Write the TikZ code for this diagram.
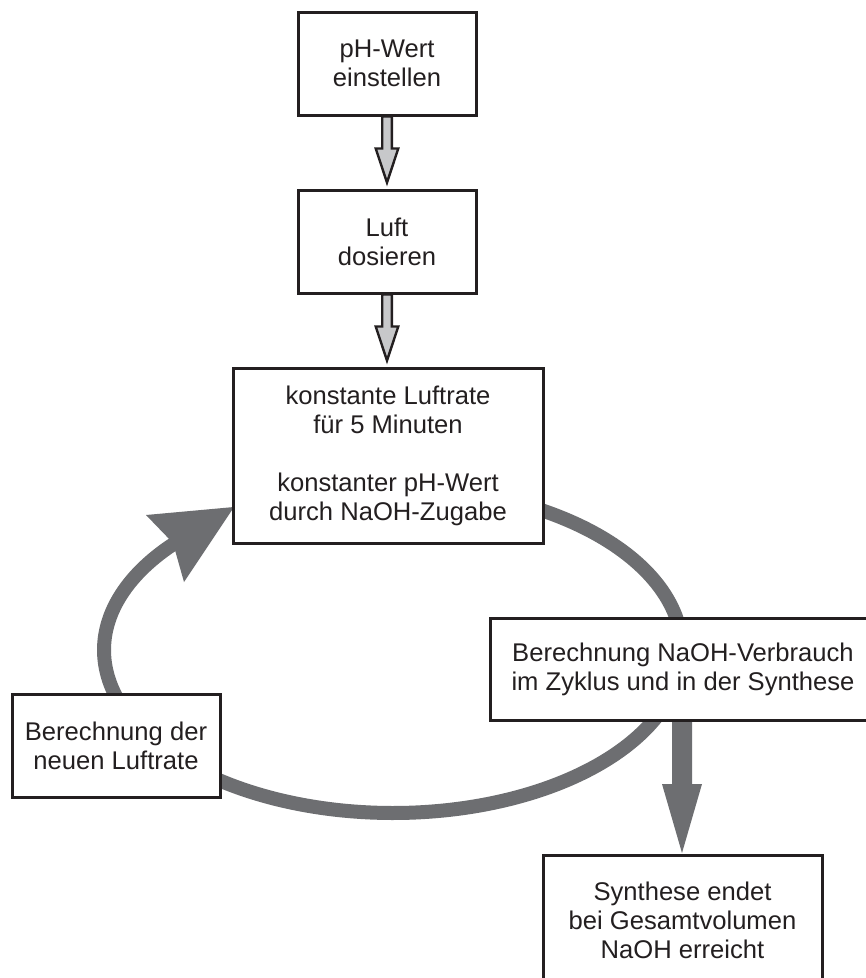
\documentclass[tikz,border=0pt]{standalone}
\usepackage{fontspec}
\setmainfont{Liberation Sans}
\usetikzlibrary{calc}
\definecolor{dark}{HTML}{231F20}
\definecolor{loopgray}{HTML}{6D6E71}
\definecolor{lightfill}{HTML}{C7C8CA}
\pgfdeclarelayer{background}
\pgfsetlayers{background,main}
\begin{document}
\begin{tikzpicture}[x=1pt,y=-1pt,
  box/.style={draw=dark, line width=3pt, fill=white, align=center, inner sep=0pt,
    text=dark, font=\fontsize{25.6}{29}\selectfont},
  smallarrow/.style={draw=dark, fill=lightfill, line width=2.4pt, line join=miter},
  loopline/.style={draw=loopgray, line width=14pt},
  loopfill/.style={fill=loopgray}
]
\clip (0,0) rectangle (866,978);

\node[box, minimum width=178pt, minimum height=103pt] (b1) at (387,63.5) {pH-Wert\\einstellen};
\node[box, minimum width=178pt, minimum height=103pt] (b2) at (387,241.5) {Luft\\dosieren};
\node[box, minimum width=310pt, minimum height=175pt] (b3) at (388,455.5)
  {konstante Luftrate\\für 5 Minuten\\[29pt]konstanter pH-Wert\\durch NaOH-Zugabe};
\node[box, minimum width=386pt, minimum height=102pt] (b4) at (683,669)
  {Berechnung NaOH-Verbrauch\\im Zyklus und in der Synthese};
\node[box, minimum width=208pt, minimum height=103pt] (b5) at (116,745.5)
  {Berechnung der\\neuen Luftrate};
\node[box, minimum width=279pt, minimum height=130pt] (b6) at (682.5,920)
  {Synthese endet\\bei Gesamtvolumen\\NaOH erreicht};

\coordinate (looptip) at (234,507);

\begin{pgfonlayer}{background}
  \fill[white] (0,0) rectangle (866,978);
  % small block arrows
  \draw[smallarrow] let \p1=(b1.south), \p2=(b2.north) in
    (\x1-4.8pt,\y1) -- (\x1-4.8pt,\y2+40pt) -- (\x1-11.3pt,\y2+40pt) -- (\x1,\y2+6pt)
    -- (\x1+11.3pt,\y2+40pt) -- (\x1+4.8pt,\y2+40pt) -- (\x1+4.8pt,\y1) -- cycle;
  \draw[smallarrow] let \p1=(b2.south), \p2=(b3.north) in
    (\x1-4.8pt,\y1) -- (\x1-4.8pt,\y2+40pt) -- (\x1-11.3pt,\y2+40pt) -- (\x1,\y2+6pt)
    -- (\x1+11.3pt,\y2+40pt) -- (\x1+4.8pt,\y2+40pt) -- (\x1+4.8pt,\y1) -- cycle;
  % loop
  \draw[loopline] plot[domain=-75:221, samples=160, smooth, variable=\t]
    ({393+289*cos(\t)}, {650+163*sin(\t)});
  \fill[loopfill] (looptip) -- (146,515) -- (173,543) -- (184,582) -- cycle;
  % bottom arrow
  \fill[loopfill] let \p1=(b4.south), \p2=(b6.north) in
    (682-10,\y1) -- (682-10,784) -- (682-20,784) -- (682,853) -- (682+20,784)
    -- (682+10,784) -- (682+10,\y1) -- cycle;
\end{pgfonlayer}
\end{tikzpicture}
\end{document}
